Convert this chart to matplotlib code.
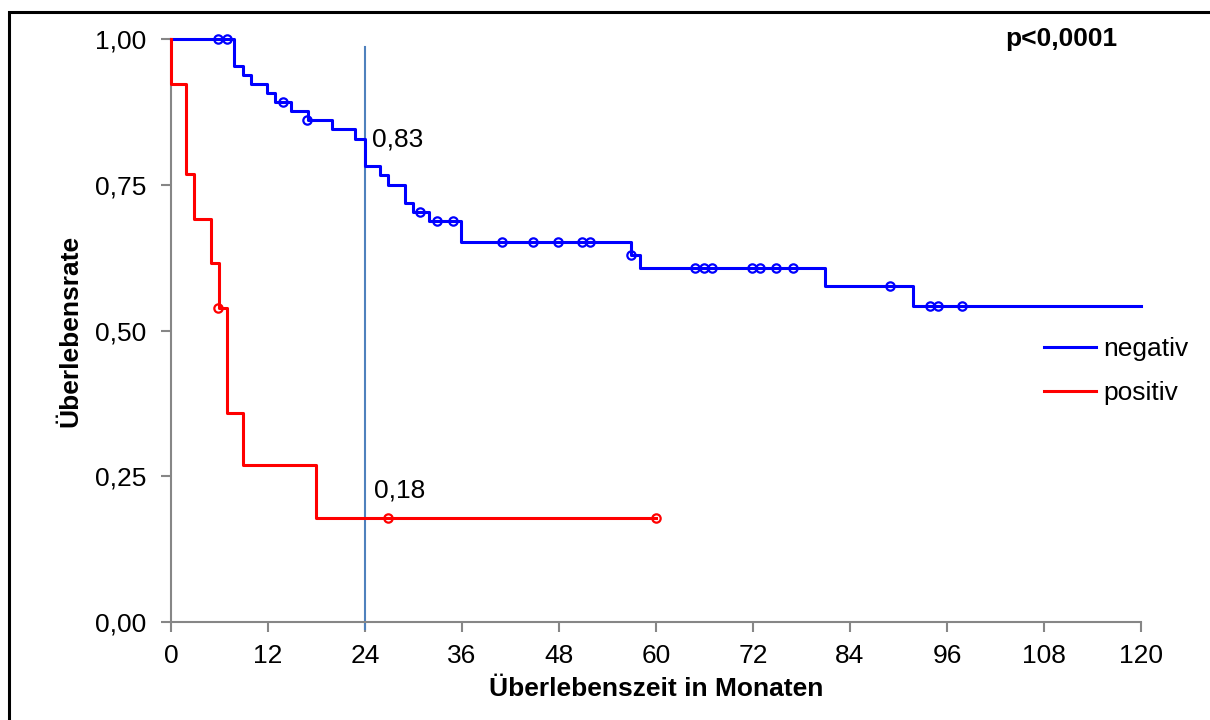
import matplotlib
matplotlib.use('Agg')
import matplotlib.pyplot as plt
from matplotlib.patches import Rectangle

plt.rcParams['font.family'] = ['Liberation Sans', 'DejaVu Sans']

# Kaplan-Meier steps (months, survival)
neg_t = [0, 7.8, 8.9, 9.9, 11.9, 12.9, 14.9, 16.9, 19.9, 22.8, 24.0, 25.9, 26.8,
         28.9, 29.9, 31.9, 35.9, 56.9, 58.0, 80.9, 91.8, 120]
neg_s = [1.0, 0.954, 0.938, 0.923, 0.908, 0.892, 0.877, 0.861, 0.845, 0.829, 0.782,
         0.766, 0.750, 0.719, 0.703, 0.687, 0.651, 0.629, 0.608, 0.576, 0.542, 0.542]
neg_cens_t = [5.8, 6.9, 13.9, 16.8, 30.8, 32.9, 34.9, 41.0, 44.8, 47.9, 50.8, 51.8,
              56.9, 64.8, 65.9, 66.9, 71.9, 72.9, 74.8, 76.9, 88.9, 93.9, 94.9, 97.9]
neg_cens_s = [1.0, 1.0, 0.892, 0.861, 0.703, 0.687, 0.687, 0.651, 0.651, 0.651, 0.651, 0.651,
              0.629, 0.608, 0.608, 0.608, 0.608, 0.608, 0.608, 0.608, 0.576, 0.542, 0.542, 0.542]

pos_t = [0, 0, 1.9, 2.9, 4.9, 5.9, 6.9, 8.9, 17.9, 60]
pos_s = [1.0, 0.923, 0.769, 0.692, 0.615, 0.538, 0.359, 0.269, 0.179, 0.179]
pos_cens_t = [5.85, 26.8, 60.0]
pos_cens_s = [0.538, 0.179, 0.179]

mark_t = 24
xticks = list(range(0, 121, 12))
yticks = [0, 0.25, 0.5, 0.75, 1.0]

fig = plt.figure(figsize=(12.1, 7.2), dpi=100)
ax = fig.add_axes([171 / 1210, 1 - 622 / 720, (1141 - 171) / 1210, (622 - 39) / 720])

# outer frame (cut off at right and bottom like the source)
fig.patches.append(Rectangle((9 / 1210, -0.05), 1.2, 1 - 12 / 720 + 0.05, transform=fig.transFigure,
                             fill=False, edgecolor='black', lw=2.2))

ax.step(neg_t, neg_s, where='post', color='#0000ff', lw=2.2, label='negativ', clip_on=False, zorder=3)
ax.step(pos_t, pos_s, where='post', color='#ff0000', lw=2.2, label='positiv', clip_on=False, zorder=3)
ax.plot(neg_cens_t, neg_cens_s, 'o', mfc='none', mec='#0000ff', ms=6, mew=1.6, clip_on=False, zorder=4)
ax.plot(pos_cens_t, pos_cens_s, 'o', mfc='none', mec='#ff0000', ms=6, mew=1.6, clip_on=False, zorder=4)
ax.plot([mark_t, mark_t], [-0.012, 0.986], color='#4f81bd', lw=1.5, clip_on=False, zorder=2)

ax.text(24.9, 0.828, '0,83', fontsize=19, va='center', ha='left')
ax.text(25.1, 0.226, '0,18', fontsize=19, va='center', ha='left')
ax.text(0.976, 1.0, 'p<0,0001', transform=ax.transAxes, fontsize=19, fontweight='bold',
        ha='right', va='center')

ax.set_xlim(0, 120)
ax.set_ylim(0, 1)
ax.set_xticks(xticks)
ax.set_yticks(yticks)
ax.set_yticklabels([f'{v:.2f}'.replace('.', ',') for v in yticks])
for s in ('top', 'right'):
    ax.spines[s].set_visible(False)
for s in ('left', 'bottom'):
    ax.spines[s].set_color('#868686')
    ax.spines[s].set_linewidth(1.5)
ax.tick_params(axis='both', colors='#868686', length=7, width=1.5, labelcolor='black', labelsize=19)
ax.tick_params(axis='x', pad=9)
ax.tick_params(axis='y', pad=11)

ax.set_xlabel('Überlebenszeit in Monaten', fontsize=19, fontweight='bold', labelpad=6)
ax.set_ylabel('Überlebensrate', fontsize=19, fontweight='bold', labelpad=9)

ax.legend(loc='center left', bbox_to_anchor=(0.875, 0.43), frameon=False, fontsize=19,
          handlelength=2.0, handletextpad=0.25, labelspacing=0.75)

fig.savefig('out.png', dpi=100)
